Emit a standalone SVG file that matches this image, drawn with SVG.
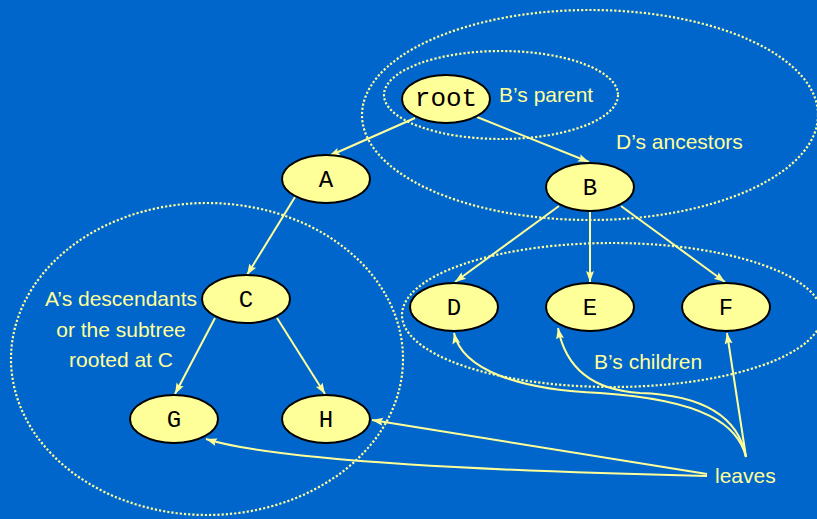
<svg xmlns="http://www.w3.org/2000/svg" width="817" height="519" viewBox="0 0 817 519">
<style>
.bg{fill:#0066CC}
.node ellipse{fill:#FFFF99;stroke:#000;stroke-width:2}
.node text{font-family:"Liberation Mono","Courier New",monospace;font-size:24px;fill:#000;text-anchor:middle}
.grp{fill:none;stroke:#FFFF99;stroke-width:2.2;stroke-dasharray:2.2 2}
.lbl{font-family:"Liberation Sans",Arial,sans-serif;font-size:21px;fill:#FFFF99}
.edge{fill:none;stroke:#FFFF99;stroke-width:2;marker-end:url(#arr)}
</style>
<defs>
<marker id="arr" markerUnits="userSpaceOnUse" markerWidth="12" markerHeight="12" viewBox="0 0 12 12" refX="11" refY="6" orient="auto">
<path d="M0,2 L11,6 L0,10 L2,6 Z" fill="#FFFF99"/>
</marker>
</defs>
<rect class="bg" x="0" y="0" width="817" height="519"/>
<g id="groups">
<ellipse class="grp" cx="590" cy="115" rx="228" ry="105"/>
<ellipse class="grp" cx="501" cy="95" rx="117" ry="44"/>
<ellipse class="grp" cx="207" cy="359" rx="196" ry="156"/>
<ellipse class="grp" cx="612" cy="315" rx="210" ry="72"/>
</g>
<g id="connectors">
<path class="edge" d="M415 118 L329 156"/>
<path class="edge" d="M477 117 L589 162"/>
<path class="edge" d="M295 197 L247 275"/>
<path class="edge" d="M215 318 L175 394"/>
<path class="edge" d="M277 318 L325 394"/>
<path class="edge" d="M559 206 L455 282"/>
<path class="edge" d="M590 211 L590 282"/>
<path class="edge" d="M621 206 L725 282"/>
<path class="edge" d="M746 457 C738 425, 705 400, 600 393 C520 390, 462 370, 454 333"/>
<path class="edge" d="M746 457 C738 415, 700 395, 640 393 C590 390, 565 365, 558 328"/>
<path class="edge" d="M746 457 L727 333"/>
<path class="edge" d="M707 474 L372 420"/>
<path class="edge" d="M707 476 C500 471, 280 462, 206 439"/>
</g>
<g id="root" class="node"><ellipse cx="446" cy="99" rx="44" ry="24"/><text x="446" y="106" style="font-size:26px">root</text></g>
<g id="A" class="node"><ellipse cx="326" cy="179" rx="44" ry="24"/><text x="326" y="187">A</text></g>
<g id="B" class="node"><ellipse cx="590" cy="187" rx="44" ry="24"/><text x="590" y="195">B</text></g>
<g id="C" class="node"><ellipse cx="246" cy="299" rx="44" ry="24"/><text x="246" y="307">C</text></g>
<g id="D" class="node"><ellipse cx="454" cy="307" rx="44" ry="24"/><text x="454" y="315">D</text></g>
<g id="E" class="node"><ellipse cx="590" cy="307" rx="44" ry="24"/><text x="590" y="315">E</text></g>
<g id="F" class="node"><ellipse cx="726" cy="307" rx="44" ry="24"/><text x="726" y="315">F</text></g>
<g id="G" class="node"><ellipse cx="174" cy="419" rx="44" ry="24"/><text x="174" y="427">G</text></g>
<g id="H" class="node"><ellipse cx="326" cy="419" rx="44" ry="24"/><text x="326" y="427">H</text></g>
<g id="labels">
<text class="lbl" x="499" y="102">B’s parent</text>
<text class="lbl" x="616" y="149">D’s ancestors</text>
<text class="lbl" x="121" y="306" text-anchor="middle">A’s descendants</text>
<text class="lbl" x="121" y="337" text-anchor="middle">or the subtree</text>
<text class="lbl" x="121" y="367" text-anchor="middle">rooted at C</text>
<text class="lbl" x="594" y="369">B’s children</text>
<text class="lbl" x="715" y="483">leaves</text>
</g>
</svg>
